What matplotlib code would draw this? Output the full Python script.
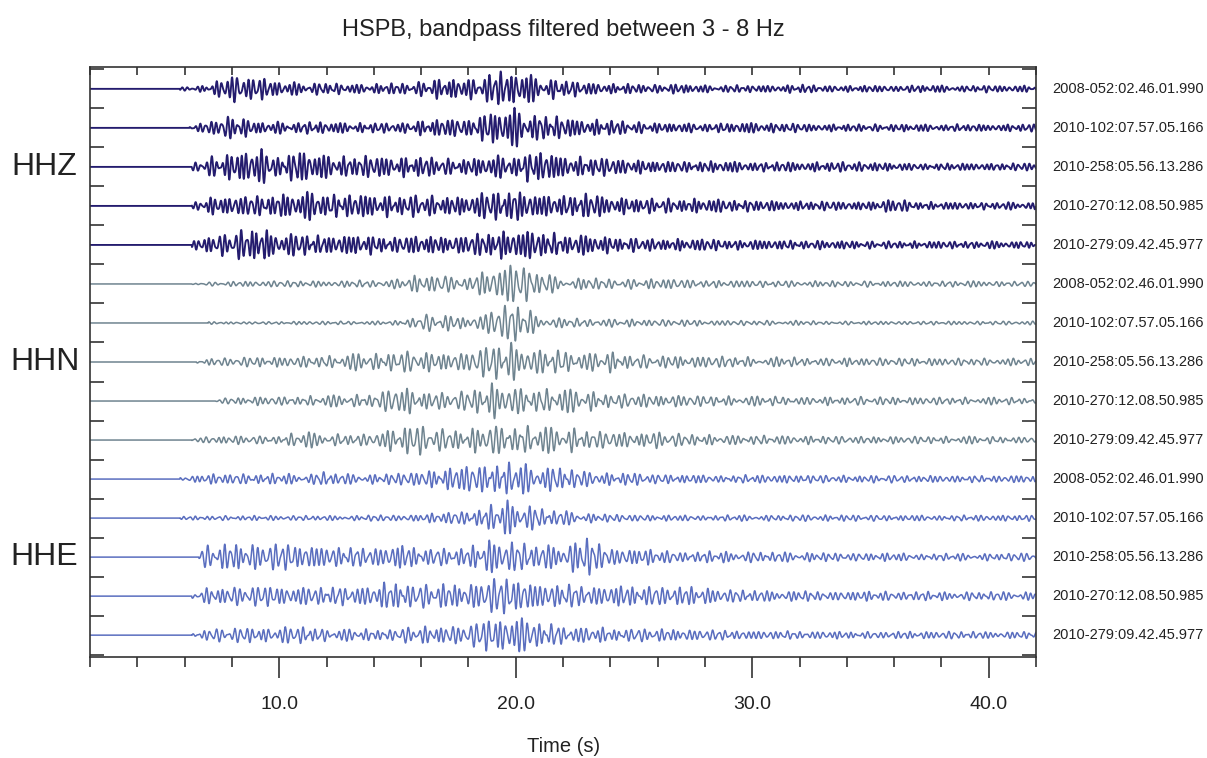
import numpy as np
import matplotlib
matplotlib.use("Agg")
import matplotlib.pyplot as plt
from matplotlib.ticker import MultipleLocator, FixedLocator
import matplotlib.transforms as mtransforms

plt.rcParams['font.family'] = ['Liberation Sans', 'DejaVu Sans']

#%% Data

# envelope knots (s) and peak amplitudes (px, trace spacing = 39 px)
knot_t = list(range(5, 43))

components = ["HHZ", "HHN", "HHE"]
events = ["2008-052:02.46.01.990", "2010-102:07.57.05.166", "2010-258:05.56.13.286",
          "2010-270:12.08.50.985", "2010-279:09.42.45.977"]

onsets = {
    "HHZ": [5.8, 6.2, 6.3, 6.3, 6.3],
    "HHN": [6.3, 7.0, 6.5, 7.3, 6.3],
    "HHE": [5.8, 5.8, 6.6, 6.3, 6.3],
}

env_hhz = [
    [0, 1.5, 3, 12, 10, 6, 5, 5, 4, 4, 4.5, 6, 9, 8, 14, 14, 10, 7, 6, 4, 4, 3.5, 4, 3, 3, 3, 3, 3.5, 3, 2.5, 3, 2.5, 3, 3, 2.5, 3, 3, 2.5],
    [0, 0.5, 5, 11, 5, 5, 5, 5, 4, 4, 4, 6, 8, 8, 14, 16, 11, 9, 7, 6, 5, 4, 4, 4, 4, 4.5, 4, 3.5, 3, 3, 3, 3, 3, 3, 3, 3, 3, 3],
    [0, 0, 8, 11, 16, 10, 15, 9, 9, 9, 8, 9, 7, 7, 9, 10, 14, 9, 8, 7, 6, 5, 5, 5, 4.5, 4, 4, 4, 4, 4, 4, 3, 3, 3, 3, 3, 3, 3],
    [0, 0, 7, 8, 9, 10, 12, 10, 10, 9, 9, 9, 8, 8, 13, 14, 9, 9, 11, 7, 7, 6, 6, 6, 5, 5, 4, 4, 4, 3.5, 3.5, 6, 3.5, 3, 3, 3, 3, 3],
    [0, 0, 8, 10, 16, 9, 9, 8, 8, 8, 7, 8, 7, 8, 11, 13, 11, 9, 8, 7, 6, 5, 5, 5, 4, 4, 4, 4, 3.5, 3.5, 3, 3, 3, 3, 3, 3, 3, 3],
]
env_hhn = [
    [0, 0, 1.5, 2, 2.5, 2.5, 2.5, 2.5, 3, 3, 4, 8, 8, 5, 14, 17, 10, 5, 5, 4.5, 4, 4, 5, 3, 3, 3, 2.5, 2.5, 2.5, 2.5, 2.5, 2.5, 2.5, 2.5, 2.5, 2.5, 2, 2],
    [0, 0, 1, 1, 1, 1, 1.5, 1.5, 1.5, 1.5, 2, 7, 7, 4, 10, 17, 6, 4, 3.5, 3.5, 3, 3, 3, 2, 2, 2, 2, 2, 1.5, 1.5, 1.5, 1.5, 1.5, 1.5, 1.5, 1.5, 1.5, 1.5],
    [0, 0, 3, 3.5, 4, 4, 5, 5, 7, 7, 10, 8, 8, 8, 14, 16, 10, 10, 8, 9, 6, 5, 5, 4.5, 4.5, 4, 4, 4, 3.5, 3.5, 3.5, 3.5, 3, 3, 3, 3, 3, 3],
    [0, 0, 0.5, 3, 3.5, 4, 4, 4.5, 5, 6, 13, 8, 7, 8, 15, 12, 10, 11, 9, 6, 6, 5, 5, 4, 4, 4, 4, 3.5, 3.5, 3.5, 3.5, 3, 3, 3, 3, 3, 3, 3],
    [0, 0.5, 3, 3.5, 3.5, 4, 7, 5, 5, 5, 11, 12, 9, 9, 14, 13, 10, 12, 8, 7, 6, 7, 5, 4.5, 4, 4, 4, 3.5, 3.5, 3, 3, 3, 3, 3, 3, 3, 3, 3],
]
env_hhe = [
    [0, 2, 4, 4.5, 5, 4.5, 4, 6, 4, 4, 4.5, 7, 9, 12, 16, 13, 12, 10, 6, 5, 5, 4, 4, 3.5, 3.5, 3.5, 3.5, 3.5, 3, 3, 3, 3, 3, 3, 3, 3, 3, 3],
    [0, 1.5, 2, 2, 2, 2, 2, 2, 2, 2.5, 2.5, 3, 5, 7, 11, 16, 8, 6, 4, 3, 3, 2.5, 2.5, 2.5, 2.5, 2.5, 2.5, 2.5, 2.5, 2.5, 2.5, 2.5, 2.5, 2.5, 2.5, 2.5, 2.5, 2.5],
    [0, 0, 10, 11, 11, 11, 10, 9, 8, 8, 11, 8, 8, 8, 15, 12, 10, 11, 16, 8, 7, 6, 5, 5, 4.5, 4.5, 4, 4, 3.5, 3.5, 3.5, 3.5, 3, 3, 3, 3, 3, 3.5],
    [0, 0, 7, 8, 8, 8, 7, 8, 8, 9, 14, 10, 10, 10, 14, 15, 10, 10, 9, 9, 9, 9, 8, 7, 5, 5, 4.5, 4.5, 4, 4, 4, 4, 4, 3.5, 3.5, 3.5, 3.5, 3.5],
    [0, 0, 5, 6, 6, 6, 8, 5, 5, 5, 6, 7, 8, 8, 14, 15, 11, 8, 7, 6, 6, 5, 5, 4, 4, 3.5, 3.5, 3.5, 3.5, 3, 3, 3, 3, 3, 3, 3, 3, 3],
]
envelopes = {"HHZ": env_hhz, "HHN": env_hhn, "HHE": env_hhe}

# frequencies (Hz) mixed into each component's wiggle, all within the 3 - 8 Hz band
band_freqs = {
    "HHZ": [4.6, 6.1, 3.4],
    "HHN": [3.9, 5.2, 3.0],
    "HHE": [4.1, 5.6, 3.2],
}
band_weights = [1.0, 0.55, 0.3]

colors = {"HHZ": "#241c6e", "HHN": "#6f8490", "HHE": "#5a6ebf"}

#%% Plot

fig = plt.figure(figsize=(12.07, 7.58), dpi=100)
ax = fig.add_axes([90 / 1207, 1 - 657 / 758, 946 / 1207, 590 / 758])

t = np.arange(2.0, 42.0, 0.01)
spacing_px = 39.0

k = 0
for comp in components:
    for i, ev in enumerate(events):
        env = np.interp(t, knot_t, envelopes[comp][i]) / spacing_px
        env[t < onsets[comp][i]] = 0
        carrier = np.zeros_like(t)
        for j, (f, w) in enumerate(zip(band_freqs[comp], band_weights)):
            wander = 1.1 * np.sin(2 * np.pi * (0.29 + 0.11 * j) * t + 1.9 * k + j)
            carrier += w * np.cos(2 * np.pi * f * t + wander + 0.8 * k * (j + 1))
        carrier /= 1.45
        y0 = -k
        ax.plot(t, y0 + env * carrier, color=colors[comp],
                lw=1.35 if comp == "HHZ" else 1.1)
        ax.text(42.7, y0, ev, fontsize=10.5, va="center", ha="left", color="#222222")
        k += 1

# component labels on the left
trans = mtransforms.blended_transform_factory(ax.transAxes, ax.transData)
for n, comp in enumerate(components):
    ax.text(-0.048, -(5 * n + 2), comp, transform=trans, fontsize=23,
            ha="center", va="center", color="#222222")

ax.set_xlim(2, 42)
ax.set_ylim(-14.56, 0.56)

# x ticks
ax.xaxis.set_major_locator(MultipleLocator(10))
ax.xaxis.set_minor_locator(MultipleLocator(2))
ax.xaxis.set_major_formatter(matplotlib.ticker.FormatStrFormatter("%.1f"))
ax.tick_params(axis="x", which="major", direction="out", length=15, width=1.2,
               labelsize=14, pad=13, colors="#333333", labelcolor="#222222")
ax.tick_params(axis="x", which="minor", direction="out", length=7.5, width=1.2,
               colors="#333333")
secx = ax.secondary_xaxis("top")
secx.xaxis.set_major_locator(MultipleLocator(2))
secx.tick_params(direction="in", length=6, width=1.2, labeltop=False, colors="#333333")
ax.tick_params(axis="x", which="both", top=False)

# y ticks at trace boundaries, inward on both sides
ax.yaxis.set_major_locator(FixedLocator(np.arange(0.5, -15, -1.0)))
ax.tick_params(axis="y", direction="in", length=10, width=1.2, left=True, right=True,
               labelleft=False, colors="#333333")

for sp in ax.spines.values():
    sp.set_linewidth(1.2)
    sp.set_color("#333333")
secx.spines["top"].set_visible(False)

fig.text(0.467, 1 - 30 / 758, "HSPB, bandpass filtered between 3 - 8 Hz",
         fontsize=17, ha="center", va="center", color="#222222")
fig.text(0.467, 1 - 747 / 758, "Time (s)", fontsize=14.5, ha="center",
         va="center", color="#222222")

fig.savefig("out.png", dpi=100)
